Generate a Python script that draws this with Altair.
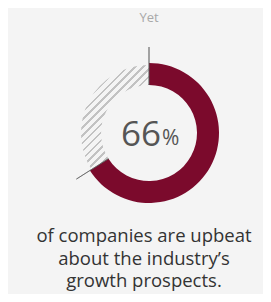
import altair as alt
import pandas as pd

# data
segments = ["Upbeat", "Other"]
values = [66, 34]
center_value = ["66"]
center_unit = ["%"]
top_label = ["Yet"]
caption = ["of companies are upbeat", "about the industry\u2019s", "growth prospects."]

RED = "#7b0a2c"
BG = "#f4f4f4"
CX, CY = 141, 125
R_IN, R_OUT = 48, 70

df = pd.DataFrame({"segment": segments, "value": values})

# hatch stripes via linear gradient (objectBoundingBox units)
N = 22
stops = []
lw = 0.32
for k in range(N):
    a = k / N
    b = (k + lw) / N
    stops += [
        alt.GradientStop(color="#c2c2c2", offset=a),
        alt.GradientStop(color="#c2c2c2", offset=b),
        alt.GradientStop(color=BG, offset=b + 0.0001),
        alt.GradientStop(color=BG, offset=(k + 1) / N - 0.0001),
    ]
hatch = alt.LinearGradient(gradient="linear", stops=stops, x1=0, y1=0, x2=0.755, y2=1.16)

base = alt.Chart(df).transform_stack(
    stack="value", groupby=[], as_=["v0", "v1"], sort=[alt.SortField("segment", order="descending")]
)
theta_scale = alt.Scale(domain=[0, 100], range=[0, 6.283185307179586])

red = base.transform_filter(alt.datum.segment == "Upbeat").mark_arc(
    innerRadius=R_IN, outerRadius=R_OUT, color=RED
).encode(
    theta=alt.Theta("v0:Q", scale=theta_scale), theta2="v1:Q",
    x=alt.value(CX), y=alt.value(CY),
)
rest = base.transform_filter(alt.datum.segment == "Other").mark_arc(
    innerRadius=R_IN, outerRadius=R_OUT - 2, fill=hatch
).encode(
    theta=alt.Theta("v0:Q", scale=theta_scale), theta2="v1:Q",
    x=alt.value(CX), y=alt.value(CY),
)
ticks = base.mark_arc(
    innerRadius=R_IN, outerRadius=86, fill="#555555", stroke="#555555", strokeWidth=0.6
).encode(
    theta=alt.Theta("v0:Q", scale=theta_scale),
    theta2=alt.Theta2("v0:Q"),
    x=alt.value(CX), y=alt.value(CY),
)

num = alt.Chart(pd.DataFrame({"t": center_value})).mark_text(
    font="Open Sans", fontSize=35, color="#555555", align="right", baseline="middle"
).encode(text="t:N", x=alt.value(CX + 12), y=alt.value(CY + 2))
unit = alt.Chart(pd.DataFrame({"t": center_unit})).mark_text(
    font="Open Sans", fontSize=21, color="#555555", align="left", baseline="middle"
).encode(text="t:N", x=alt.value(CX + 13), y=alt.value(CY + 6))
top = alt.Chart(pd.DataFrame({"t": top_label})).mark_text(
    font="Open Sans", fontSize=13, color="#a8a8a8", align="center", baseline="middle"
).encode(text="t:N", x=alt.value(CX), y=alt.value(10))

cap_df = pd.DataFrame({"t": caption, "i": list(range(len(caption)))})
cap = alt.Chart(cap_df).mark_text(
    font="Open Sans", fontSize=18.5, color="#333333", align="center", baseline="alphabetic"
).encode(
    text="t:N",
    x=alt.value(136),
    y=alt.Y("i:Q", scale=alt.Scale(domain=[0, 2], range=[234, 279]), axis=None),
)

chart = alt.layer(rest, red, ticks, num, unit, top, cap).properties(
    width=255, height=286, padding=0, background=BG
).configure_view(stroke=None)

chart.save("out.html", embed_options={"renderer": "svg", "actions": False})
